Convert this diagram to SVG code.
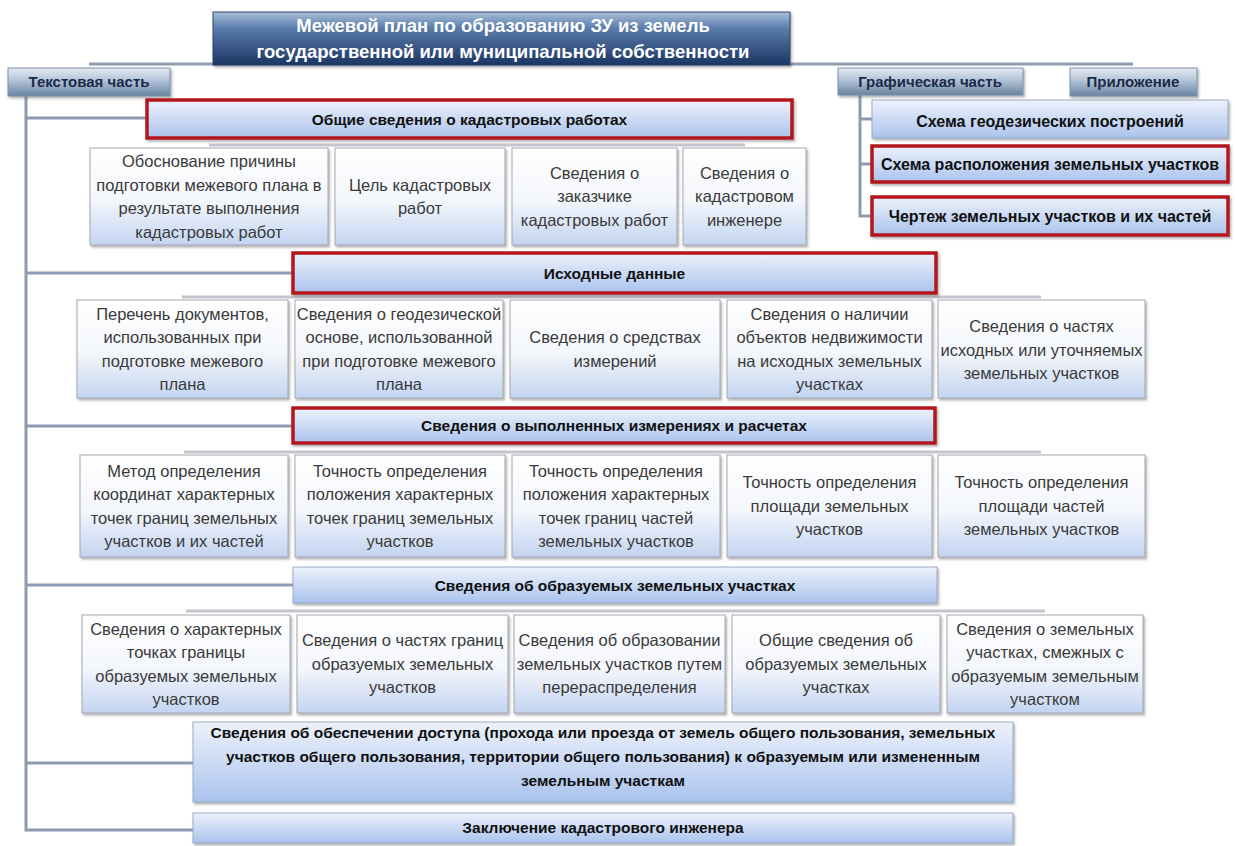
<svg xmlns="http://www.w3.org/2000/svg" width="1235" height="846" viewBox="0 0 1235 846">
<defs>
<linearGradient id="gSub" x1="0" y1="0" x2="0" y2="1"><stop offset="0" stop-color="#ffffff"/><stop offset="0.55" stop-color="#f3f6fb"/><stop offset="1" stop-color="#c3d4f1"/></linearGradient>
<linearGradient id="gHdr" x1="0" y1="0" x2="0" y2="1"><stop offset="0" stop-color="#edf2fb"/><stop offset="1" stop-color="#aac3ed"/></linearGradient>
<linearGradient id="gPart" x1="0" y1="0" x2="0" y2="1"><stop offset="0" stop-color="#e6ebf2"/><stop offset="0.45" stop-color="#b3c3d7"/><stop offset="1" stop-color="#67839f"/></linearGradient>
<linearGradient id="gTitle" x1="0" y1="0" x2="0" y2="1"><stop offset="0" stop-color="#a9bfd8"/><stop offset="0.3" stop-color="#5b7dab"/><stop offset="1" stop-color="#1b3663"/></linearGradient>
<filter id="sh" x="-5%" y="-5%" width="110%" height="125%"><feDropShadow dx="1.5" dy="2" stdDeviation="1.2" flood-color="#555" flood-opacity="0.45"/></filter>
</defs>
<style>
text{font-family:"Liberation Sans",Arial,sans-serif;text-anchor:middle}
.sub{fill:url(#gSub);stroke:#a3a8b0;stroke-width:1;filter:url(#sh)}
.hdr{fill:url(#gHdr);stroke:#9aabc4;stroke-width:1;filter:url(#sh)}
.red{fill:url(#gHdr);stroke:#b3141d;stroke-width:3.5;filter:url(#sh)}
.part{fill:url(#gPart);stroke:#7d93ae;stroke-width:1;filter:url(#sh)}
.title{fill:url(#gTitle);stroke:#2c4670;stroke-width:1;filter:url(#sh)}
.t{font-size:16.5px;fill:#3a3a3a}
.h{font-size:15.5px;font-weight:bold;fill:#111}
.g{font-size:16px;font-weight:bold;fill:#111}
.p{font-size:15px;font-weight:bold;fill:#1b2a48}
.tt{font-size:18.5px;font-weight:bold;fill:#ffffff}
.c{stroke:#8d9bb1;stroke-width:3;fill:none}
.r{stroke:#c2c6cc;stroke-width:3;fill:none}
</style>
<g id="connectors">
<path class="c" d="M89,64 H1133"/>
<path class="c" d="M26,96 V830 H193"/>
<path class="c" d="M26,118 H147 M26,273 H293 M26,426 H293 M26,585 H293 M26,763 H193"/>
<path class="c" d="M860,95 V216 H872 M860,119 H872 M860,164 H872"/>
<path class="r" d="M209,145 H745 M182,297 H1041 M184,452 H1041 M186,611 H1045"/>
</g>
<g id="title"><rect class="title" x="213" y="12" width="577" height="53"/><text class="tt" x="503" y="31.5">Межевой план по образованию ЗУ из земель</text><text class="tt" x="503" y="57.5">государственной или муниципальной собственности</text></g>
<g id="textpart"><rect class="part" x="8" y="68" width="162" height="28"/><text class="p" x="89" y="87">Текстовая часть</text></g>
<g id="graphpart"><rect class="part" x="838" y="68" width="185" height="27"/><text class="p" x="930" y="87">Графическая часть</text></g>
<g id="appendix"><rect class="part" x="1070" y="68" width="127" height="28"/><text class="p" x="1133" y="87">Приложение</text></g>
<g id="g1"><rect class="hdr" x="872" y="100" width="356" height="38"/><text class="g" x="1050" y="127">Схема геодезических построений</text></g>
<g id="g2"><rect class="red" x="872" y="146" width="356" height="36"/><text class="g" x="1050" y="169.5">Схема расположения земельных участков</text></g>
<g id="g3"><rect class="red" x="872" y="197" width="356" height="38"/><text class="g" x="1050" y="221.5">Чертеж земельных участков и их частей</text></g>
<g id="h1"><rect class="red" x="147" y="100" width="645" height="38"/><text class="h" x="469.5" y="124.5">Общие сведения о кадастровых работах</text></g>
<g id="r1b1"><rect class="sub" x="90" y="148" width="238" height="97"/><text class="t" x="209" y="167">Обоснование причины</text><text class="t" x="209" y="190.5">подготовки межевого плана в</text><text class="t" x="209" y="214">результате выполнения</text><text class="t" x="209" y="237.5">кадастровых работ</text></g>
<g id="r1b2"><rect class="sub" x="335" y="148" width="170" height="97"/><text class="t" x="420" y="190.5">Цель кадастровых</text><text class="t" x="420" y="214">работ</text></g>
<g id="r1b3"><rect class="sub" x="512" y="148" width="165" height="97"/><text class="t" x="594.5" y="178.5">Сведения о</text><text class="t" x="594.5" y="202">заказчике</text><text class="t" x="594.5" y="225.5">кадастровых работ</text></g>
<g id="r1b4"><rect class="sub" x="683" y="148" width="123" height="97"/><text class="t" x="744.5" y="178.5">Сведения о</text><text class="t" x="744.5" y="202">кадастровом</text><text class="t" x="744.5" y="225.5">инженере</text></g>
<g id="h2"><rect class="red" x="293" y="253" width="643" height="40"/><text class="h" x="614.5" y="278.5">Исходные данные</text></g>
<g id="r2b1"><rect class="sub" x="77" y="300" width="211" height="98"/><text class="t" x="182.5" y="319.5">Перечень документов,</text><text class="t" x="182.5" y="343">использованных при</text><text class="t" x="182.5" y="366.5">подготовке межевого</text><text class="t" x="182.5" y="390">плана</text></g>
<g id="r2b2"><rect class="sub" x="295" y="300" width="208" height="98"/><text class="t" x="399" y="319.5">Сведения о геодезической</text><text class="t" x="399" y="343">основе, использованной</text><text class="t" x="399" y="366.5">при подготовке межевого</text><text class="t" x="399" y="390">плана</text></g>
<g id="r2b3"><rect class="sub" x="510" y="300" width="210" height="98"/><text class="t" x="615" y="343">Сведения о средствах</text><text class="t" x="615" y="366.5">измерений</text></g>
<g id="r2b4"><rect class="sub" x="727" y="300" width="205" height="98"/><text class="t" x="829.5" y="319.5">Сведения о наличии</text><text class="t" x="829.5" y="343">объектов недвижимости</text><text class="t" x="829.5" y="366.5">на исходных земельных</text><text class="t" x="829.5" y="390">участках</text></g>
<g id="r2b5"><rect class="sub" x="938" y="300" width="207" height="98"/><text class="t" x="1041.5" y="332">Сведения о частях</text><text class="t" x="1041.5" y="355.5">исходных или уточняемых</text><text class="t" x="1041.5" y="379">земельных участков</text></g>
<g id="h3"><rect class="red" x="293" y="408" width="642" height="35"/><text class="h" x="614" y="431">Сведения о выполненных измерениях и расчетах</text></g>
<g id="r3b1"><rect class="sub" x="80" y="455" width="208" height="102"/><text class="t" x="184" y="476.5">Метод определения</text><text class="t" x="184" y="500">координат характерных</text><text class="t" x="184" y="523.5">точек границ земельных</text><text class="t" x="184" y="547">участков и их частей</text></g>
<g id="r3b2"><rect class="sub" x="295" y="455" width="210" height="102"/><text class="t" x="400" y="476.5">Точность определения</text><text class="t" x="400" y="500">положения характерных</text><text class="t" x="400" y="523.5">точек границ земельных</text><text class="t" x="400" y="547">участков</text></g>
<g id="r3b3"><rect class="sub" x="512" y="455" width="208" height="102"/><text class="t" x="616" y="476.5">Точность определения</text><text class="t" x="616" y="500">положения характерных</text><text class="t" x="616" y="523.5">точек границ частей</text><text class="t" x="616" y="547">земельных участков</text></g>
<g id="r3b4"><rect class="sub" x="727" y="455" width="205" height="102"/><text class="t" x="829.5" y="488">Точность определения</text><text class="t" x="829.5" y="511.5">площади земельных</text><text class="t" x="829.5" y="535">участков</text></g>
<g id="r3b5"><rect class="sub" x="938" y="455" width="207" height="102"/><text class="t" x="1041.5" y="488">Точность определения</text><text class="t" x="1041.5" y="511.5">площади частей</text><text class="t" x="1041.5" y="535">земельных участков</text></g>
<g id="h4"><rect class="hdr" x="293" y="567" width="644" height="36"/><text class="h" x="615" y="590.5">Сведения об образуемых земельных участках</text></g>
<g id="r4b1"><rect class="sub" x="82" y="615" width="208" height="98"/><text class="t" x="186" y="634.5">Сведения о характерных</text><text class="t" x="186" y="658">точках границы</text><text class="t" x="186" y="681.5">образуемых земельных</text><text class="t" x="186" y="705">участков</text></g>
<g id="r4b2"><rect class="sub" x="297" y="615" width="211" height="98"/><text class="t" x="402.5" y="646">Сведения о частях границ</text><text class="t" x="402.5" y="669.5">образуемых земельных</text><text class="t" x="402.5" y="693">участков</text></g>
<g id="r4b3"><rect class="sub" x="514" y="615" width="211" height="98"/><text class="t" x="619.5" y="646">Сведения об образовании</text><text class="t" x="619.5" y="669.5">земельных участков путем</text><text class="t" x="619.5" y="693">перераспределения</text></g>
<g id="r4b4"><rect class="sub" x="732" y="615" width="208" height="98"/><text class="t" x="836" y="646">Общие сведения об</text><text class="t" x="836" y="669.5">образуемых земельных</text><text class="t" x="836" y="693">участках</text></g>
<g id="r4b5"><rect class="sub" x="947" y="615" width="196" height="98"/><text class="t" x="1045" y="634.5">Сведения о земельных</text><text class="t" x="1045" y="658">участках, смежных с</text><text class="t" x="1045" y="681.5">образуемым земельным</text><text class="t" x="1045" y="705">участком</text></g>
<g id="h5"><rect class="hdr" x="193" y="722" width="820" height="80"/><text class="h" x="603" y="738">Сведения об обеспечении доступа (прохода или проезда от земель общего пользования, земельных</text><text class="h" x="603" y="762">участков общего пользования, территории общего пользования) к образуемым или измененным</text><text class="h" x="603" y="786">земельным участкам</text></g>
<g id="h6"><rect class="hdr" x="193" y="813" width="820" height="30"/><text class="h" x="603" y="833">Заключение кадастрового инженера</text></g>
</svg>
